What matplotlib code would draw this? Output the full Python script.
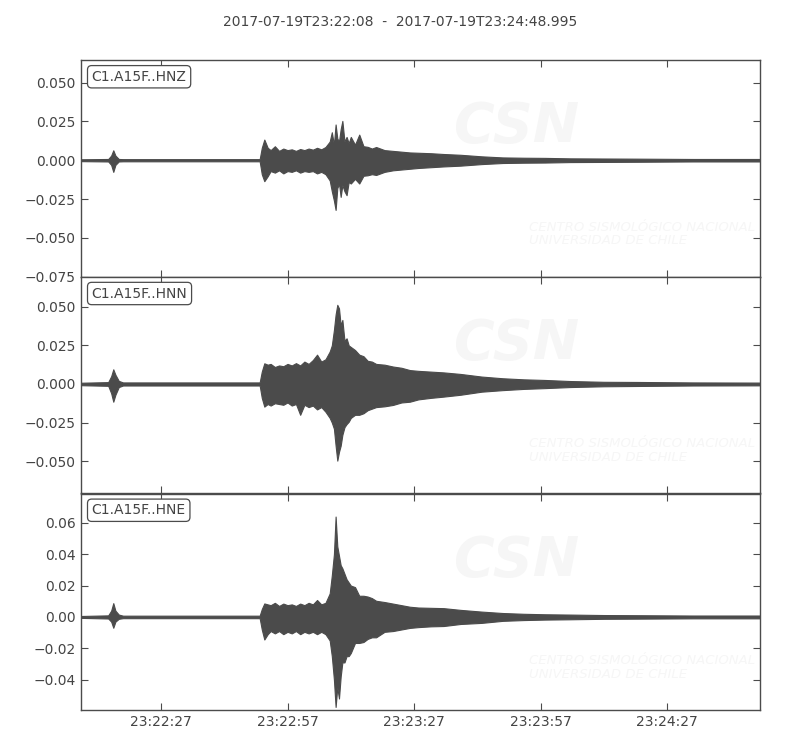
import datetime as dt
import numpy as np
import matplotlib
matplotlib.use("Agg")
import matplotlib.pyplot as plt
import matplotlib.dates as mdates
from matplotlib.ticker import MultipleLocator, FuncFormatter

# seconds after 2017-07-19T23:22:08, envelope
t_sec = [0, 6.5, 7.2, 7.7, 8.2, 9.0, 10.0, 42.4, 42.9, 43.5, 44.3, 45, 46, 47, 48,
         49, 50, 51, 52, 53, 54, 55, 56, 57, 58, 59, 59.5, 60.0, 60.4, 60.8,
         61.2, 61.6, 62.0, 62.5, 63.0, 63.5, 64, 65, 66, 67, 68, 69, 70, 72,
         74, 76, 78, 80, 83, 86, 90, 95, 100, 105, 110, 116, 124, 132, 145, 161]

hnz_up = [0.0006, 0.0008, 0.003, 0.0064, 0.003, 0.0008, 0.0007, 0.0007, 0.008, 0.0133,
          0.008, 0.0065, 0.009, 0.006, 0.0075, 0.0065, 0.007, 0.006, 0.0072, 0.0065,
          0.0075, 0.0068, 0.008, 0.007, 0.0085, 0.012, 0.018, 0.010, 0.023, 0.014,
          0.012, 0.020, 0.0253, 0.012, 0.015, 0.011, 0.015, 0.010, 0.0165, 0.009,
          0.0086, 0.0075, 0.0085, 0.0065, 0.006, 0.0055, 0.005, 0.0048, 0.0045, 0.004,
          0.0035, 0.0025, 0.0018, 0.0016, 0.0015, 0.0012, 0.0011, 0.001, 0.0008, 0.0008]
hnz_lo = [-0.0006, -0.0008, -0.003, -0.0075, -0.003, -0.0008, -0.0007, -0.0007, -0.009, -0.0135,
          -0.0103, -0.007, -0.008, -0.0065, -0.0085, -0.007, -0.0075, -0.0065, -0.008, -0.007,
          -0.0075, -0.007, -0.0085, -0.0075, -0.009, -0.013, -0.020, -0.026, -0.032, -0.018,
          -0.015, -0.0236, -0.016, -0.020, -0.0225, -0.014, -0.015, -0.012, -0.015, -0.010,
          -0.0097, -0.009, -0.0095, -0.0075, -0.0065, -0.006, -0.0055, -0.005, -0.0045, -0.004,
          -0.0035, -0.0025, -0.0018, -0.0016, -0.0015, -0.0012, -0.0011, -0.001, -0.0008, -0.0008]

hnn_up = [0.0008, 0.0012, 0.005, 0.0095, 0.006, 0.002, 0.001, 0.001, 0.008, 0.0134,
          0.0125, 0.013, 0.011, 0.012, 0.0115, 0.013, 0.012, 0.0135, 0.012, 0.0145,
          0.013, 0.0155, 0.019, 0.0145, 0.016, 0.021, 0.025, 0.035, 0.045, 0.0513,
          0.049, 0.038, 0.0415, 0.028, 0.0296, 0.025, 0.024, 0.022, 0.019, 0.018,
          0.015, 0.0145, 0.013, 0.0125, 0.0113, 0.0105, 0.009, 0.0085, 0.008, 0.0075,
          0.0065, 0.0048, 0.0037, 0.003, 0.0026, 0.0019, 0.0014, 0.0013, 0.001, 0.0009]
hnn_lo = [-0.0008, -0.0012, -0.006, -0.0115, -0.007, -0.002, -0.001, -0.001, -0.009, -0.0147,
          -0.013, -0.014, -0.0125, -0.013, -0.0135, -0.012, -0.014, -0.013, -0.020, -0.0135,
          -0.015, -0.014, -0.0165, -0.015, -0.018, -0.022, -0.025, -0.029, -0.040, -0.0497,
          -0.044, -0.040, -0.033, -0.028, -0.026, -0.0245, -0.022, -0.020, -0.020, -0.019,
          -0.017, -0.016, -0.015, -0.0145, -0.0136, -0.012, -0.0115, -0.010, -0.009, -0.0082,
          -0.007, -0.005, -0.004, -0.0032, -0.0027, -0.002, -0.0015, -0.0013, -0.001, -0.0009]

hne_up = [0.0006, 0.001, 0.004, 0.0088, 0.004, 0.0015, 0.0008, 0.0008, 0.005, 0.0086,
          0.008, 0.0075, 0.009, 0.007, 0.0085, 0.0075, 0.008, 0.007, 0.0085, 0.0075,
          0.009, 0.008, 0.0108, 0.008, 0.009, 0.015, 0.0265, 0.040, 0.064, 0.045,
          0.039, 0.033, 0.031, 0.0275, 0.024, 0.022, 0.020, 0.019, 0.0135, 0.0135,
          0.013, 0.012, 0.0103, 0.0095, 0.0085, 0.0075, 0.0065, 0.006, 0.0058, 0.0056,
          0.0045, 0.0034, 0.0025, 0.002, 0.0017, 0.0015, 0.0012, 0.0011, 0.0009, 0.0009]
hne_lo = [-0.0006, -0.001, -0.003, -0.0069, -0.003, -0.0012, -0.0008, -0.0008, -0.008, -0.0144,
          -0.011, -0.009, -0.0105, -0.009, -0.011, -0.0095, -0.0105, -0.009, -0.011, -0.0095,
          -0.0105, -0.0095, -0.011, -0.0095, -0.011, -0.015, -0.025, -0.040, -0.0574, -0.045,
          -0.052, -0.038, -0.029, -0.029, -0.025, -0.025, -0.023, -0.0166, -0.0166, -0.016,
          -0.014, -0.013, -0.013, -0.0095, -0.009, -0.008, -0.007, -0.0065, -0.006, -0.0058,
          -0.0045, -0.0038, -0.0025, -0.002, -0.0017, -0.0015, -0.0012, -0.0011, -0.0009, -0.0009]

labels = ["C1.A15F..HNZ", "C1.A15F..HNN", "C1.A15F..HNE"]
ylims = [(-0.075, 0.0645), (-0.071, 0.0695), (-0.0595, 0.0787)]
ysteps = [0.025, 0.025, 0.02]
ydigits = [3, 3, 2]

start = dt.datetime(2017, 7, 19, 23, 22, 8)
end = start + dt.timedelta(seconds=160.995)
times = [start + dt.timedelta(seconds=s) for s in t_sec]

col = "#4b4b4b"
txt = "#444444"
wm = "#f6f6f6"
plt.rcParams["font.family"] = "DejaVu Sans"


def yfmt(nd):
    return FuncFormatter(lambda v, p: ("%.*f" % (nd, v)).replace("-", "\u2212"))


fig, axes = plt.subplots(3, 1, figsize=(8, 7.5), dpi=100, sharex=True)
fig.subplots_adjust(left=0.101, right=0.95, top=0.92, bottom=0.053, hspace=0)

envs = [(hnz_up, hnz_lo), (hnn_up, hnn_lo), (hne_up, hne_lo)]
for i, ax in enumerate(axes):
    up, lo = envs[i]
    # very faint CSN watermark
    ax.text(0.55, 0.62, "CSN", transform=ax.transAxes, fontsize=40, fontweight="bold",
            style="italic", color=wm, zorder=0, clip_on=True)
    ax.text(0.66, 0.15, "CENTRO SISMOLÓGICO NACIONAL\nUNIVERSIDAD DE CHILE",
            transform=ax.transAxes, fontsize=9.5, style="italic", color=wm,
            linespacing=1.05, zorder=0, clip_on=True)
    ax.fill_between(times, lo, up, color=col, lw=0.8, edgecolor=col, zorder=2)
    ax.set_ylim(*ylims[i])
    ax.set_xlim(start, end)
    ax.yaxis.set_major_locator(MultipleLocator(ysteps[i]))
    ax.yaxis.set_major_formatter(yfmt(ydigits[i]))
    ax.tick_params(direction="in", top=True, right=True, length=5, width=0.8,
                   colors=col, labelcolor=txt, labelsize=10)
    for s in ax.spines.values():
        s.set_color(col)
        s.set_linewidth(1.0)
    ax.text(0.016, 0.955, labels[i], transform=ax.transAxes, va="top", ha="left",
            fontsize=10, color=txt,
            bbox=dict(boxstyle="round,pad=0.3", fc="white", ec=col, lw=0.9))

axes[-1].xaxis.set_major_locator(mdates.SecondLocator(bysecond=[27, 57]))
axes[-1].xaxis.set_major_formatter(mdates.DateFormatter("%H:%M:%S"))

fig.suptitle("2017-07-19T23:22:08  -  2017-07-19T23:24:48.995", y=0.98, fontsize=10,
             color=txt)

fig.savefig("out.png", dpi=100)
